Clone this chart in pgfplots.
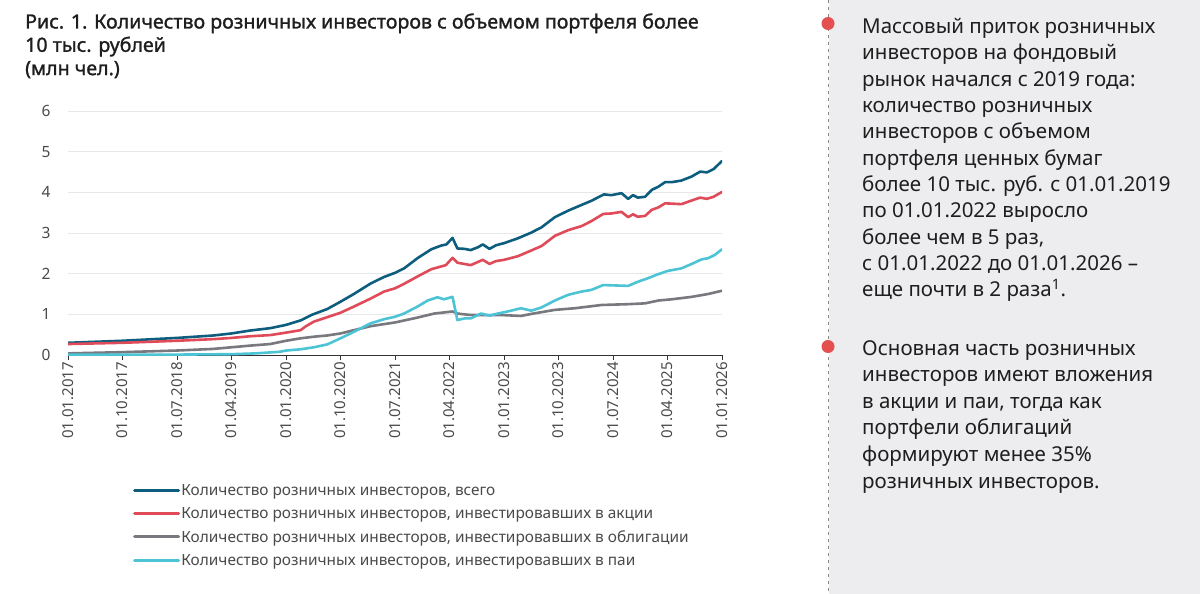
\documentclass[border=0pt]{standalone}
\usepackage{fontspec}
\setmainfont{Noto Sans}
\newfontfamily\titlefont{Noto Sans}[FakeBold=1.3]
\usepackage{pgfplots}
\pgfplotsset{compat=1.18}

\definecolor{cTotal}{HTML}{0D5E7E}
\definecolor{cStock}{HTML}{E04B5A}
\definecolor{cBond}{HTML}{78787F}
\definecolor{cFund}{HTML}{4CC4D6}
\definecolor{panel}{HTML}{EDEDEF}
\definecolor{bullet}{HTML}{E3504F}
\definecolor{dashgray}{HTML}{8A8A8A}
\definecolor{gridgray}{HTML}{E8E8E8}
\definecolor{axisdark}{HTML}{333333}
\definecolor{ticktext}{HTML}{4A4A4A}
\definecolor{bodytext}{HTML}{1E1E1E}

\begin{document}
\begin{tikzpicture}
\useasboundingbox (0,0) rectangle (1200pt,-594pt);
\fill[white] (0,0) rectangle (1200pt,-594pt);

% side panel with commentary
\fill[panel] (829pt,0) rectangle (1200pt,-594pt);
\draw[dashgray, line width=1pt, dash pattern=on 3pt off 4pt] (828pt,0) -- (828pt,-594pt);
\fill[bullet] (828pt,-23.5pt) circle (6.5pt);
\fill[bullet] (828pt,-346.5pt) circle (6.5pt);

\foreach \t [count=\i] in {{Массовый приток розничных},{инвесторов на фондовый},{рынок начался с 2019 года:},{количество розничных},{инвесторов с объемом},{портфеля ценных бумаг},{более 10 тыс. руб. с 01.01.2019},{по 01.01.2022 выросло},{более чем в 5 раз,},{с 01.01.2022 до 01.01.2026 –},{еще почти в 2 раза\textsuperscript{1}.}}
  \node[anchor=base west, inner sep=0pt, text=bodytext, font=\fontsize{20.5}{24}\selectfont] at (862pt,{-33.3pt-(\i-1)*26.35pt}) {\t};

\foreach \t [count=\i] in {{Основная часть розничных},{инвесторов имеют вложения},{в акции и паи, тогда как},{портфели облигаций},{формируют менее 35\%},{розничных инвесторов.}}
  \node[anchor=base west, inner sep=0pt, text=bodytext, font=\fontsize{20.5}{24}\selectfont] at (862pt,{-355pt-(\i-1)*26.65pt}) {\t};

% chart title
\foreach \t [count=\i] in {{Рис. 1. Количество розничных инвесторов с объемом портфеля более},{10 тыс. рублей},{(млн чел.)}}
  \node[anchor=base west, inner sep=0pt, text=bodytext, font=\titlefont\fontsize{19.6}{21}\selectfont] at (25pt,{-28.5pt-(\i-1)*23.3pt}) {\t};

\begin{axis}[
  at={(68pt,-355pt)}, anchor=south west,
  scale only axis, width=654pt, height=244pt,
  xmin=0, xmax=108, ymin=0, ymax=6,
  axis x line*=bottom, axis y line*=left,
  y axis line style={draw=none},
  x axis line style={draw=axisdark, line width=1pt},
  xtick={0,9,...,108},
  xticklabels={01.01.2017,01.10.2017,01.07.2018,01.04.2019,01.01.2020,01.10.2020,01.07.2021,01.04.2022,01.01.2023,01.10.2023,01.07.2024,01.04.2025,01.01.2026},
  xtick style={draw=axisdark, line width=0.8pt},
  tick align=outside,
  major tick length=5pt,
  ytick={0,1,...,6},
  ytick style={draw=none},
  ymajorgrids, grid style={gridgray, line width=1pt},
  tick label style={text=ticktext},
  xticklabel style={rotate=90, anchor=east, font=\fontsize{15}{16}\selectfont, inner sep=2pt},
  yticklabel style={font=\fontsize{15.5}{16}\selectfont, xshift=-9pt},
  /pgf/number format/assume math mode=true,
  legend cell align=left,
  legend style={at={(0.0994,-0.525)}, anchor=north west, draw=none, fill=none,
    inner sep=0pt, font=\fontsize{15.4}{16}\selectfont, text=ticktext,
    row sep=8pt, nodes={inner sep=1.2pt}},
  legend image code/.code={\draw[#1, line width=3pt] (0pt,0pt) -- (44pt,0pt);},
  every axis plot/.append style={line width=2.6pt, line join=round, line cap=round},
]
\addplot[cTotal] coordinates {
(0,0.30) (9,0.35) (18,0.42) (24,0.48) (27,0.53) (30,0.60) (33.4,0.66) (36,0.74)
(38.4,0.85) (40.3,0.99) (42.8,1.13) (45,1.31) (47.2,1.50) (50,1.76) (52.2,1.92)
(54,2.02) (55.5,2.13) (57.7,2.38) (60,2.60) (61.6,2.69) (62.5,2.72) (63.5,2.88)
(64.3,2.62) (65.5,2.61) (66.5,2.58) (67.7,2.65) (68.5,2.72) (69.6,2.61) (70.7,2.70)
(72,2.75) (74.3,2.87) (76.5,3.01) (78.2,3.14) (80.4,3.39) (82.6,3.55) (84.8,3.69)
(86.4,3.79) (88.5,3.95) (89.7,3.93) (91.4,3.98) (92.5,3.84) (93.3,3.93) (94.1,3.87)
(95.3,3.89) (96.4,4.06) (97.5,4.14) (98.6,4.25) (99.7,4.25) (101.3,4.29) (103,4.39)
(104.4,4.51) (105.5,4.49) (106.6,4.57) (108,4.77)
};
\addlegendentry{Количество розничных инвесторов, всего}
\addplot[cStock] coordinates {
(0,0.27) (9,0.30) (18,0.35) (24,0.39) (27,0.42) (30,0.46) (33.4,0.49) (36,0.55)
(38.4,0.61) (39.2,0.70) (40.6,0.82) (42.8,0.93) (45,1.04) (47.2,1.19) (50,1.39)
(52.2,1.56) (54,1.64) (55.5,1.75) (57.7,1.93) (60,2.11) (62.4,2.21) (63.5,2.39)
(64.3,2.27) (66.5,2.21) (68.5,2.34) (69.6,2.24) (70.7,2.31) (72,2.34) (74.3,2.43)
(76.5,2.57) (78.2,2.68) (80.4,2.93) (82.6,3.07) (84.8,3.17) (86.4,3.29) (88.4,3.47)
(89.7,3.48) (91.4,3.52) (92.5,3.39) (93.3,3.46) (94.1,3.40) (95.3,3.42) (96.4,3.57)
(97.5,3.63) (98.6,3.73) (101.3,3.71) (103,3.80) (104.4,3.87) (105.5,3.84)
(106.6,3.89) (108,4.01)
};
\addlegendentry{Количество розничных инвесторов, инвестировавших в акции}
\addplot[cBond] coordinates {
(0,0.04) (9,0.07) (18,0.11) (24,0.15) (27,0.19) (30,0.23) (33.4,0.27) (36,0.35)
(38.4,0.41) (40.6,0.45) (42.8,0.48) (45,0.53) (47.2,0.61) (50,0.71) (54,0.80)
(57.7,0.92) (60.5,1.02) (63.5,1.07) (64.3,1.02) (66,0.99) (68,0.98) (72,0.98)
(74.8,0.96) (76.5,1.01) (80.4,1.11) (83.7,1.15) (88.1,1.23) (92.5,1.25) (95.3,1.27)
(97.5,1.34) (99.7,1.37) (103,1.43) (105.7,1.50) (108,1.58)
};
\addlegendentry{Количество розничных инвесторов, инвестировавших в облигации}
\addplot[cFund] coordinates {
(0,0.01) (18,0.01) (27,0.02) (31,0.04) (35,0.08) (36,0.11) (38.4,0.14) (40.6,0.19)
(42.8,0.26) (45,0.41) (47.2,0.57) (50,0.78) (52.2,0.88) (54,0.94) (55.5,1.02)
(57.7,1.19) (59.4,1.34) (61,1.42) (62.1,1.37) (63.5,1.43) (64.3,0.86) (65.5,0.90)
(66.5,0.90) (68.2,1.02) (69.6,0.97) (71,1.02) (72.6,1.07) (74.8,1.15) (76.5,1.09)
(78.2,1.17) (80.4,1.34) (82.6,1.48) (84.8,1.56) (86.4,1.60) (88.4,1.72) (92.5,1.70)
(94.1,1.80) (95.8,1.89) (97.5,1.99) (99.1,2.07) (101.3,2.13) (103,2.24) (104.6,2.35)
(105.7,2.38) (106.8,2.46) (108,2.60)
};
\addlegendentry{Количество розничных инвесторов, инвестировавших в паи}
\end{axis}
\end{tikzpicture}
\end{document}
